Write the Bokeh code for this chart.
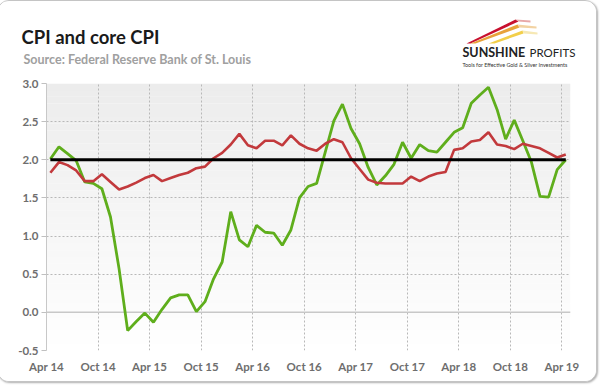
import numpy as np
from bokeh.plotting import figure
from bokeh.layouts import column
from bokeh.models import (FixedTicker, NumeralTickFormatter, Label, Span,
                          Range1d)
from bokeh.embed import file_html
from bokeh.resources import INLINE

# ---------------- data ----------------
tick_labels = ["Apr 14", "Oct 14", "Apr 15", "Oct 15", "Apr 16", "Oct 16",
               "Apr 17", "Oct 17", "Apr 18", "Oct 18", "Apr 19"]

cpi = [2.01, 2.17, 2.08, 1.99, 1.71, 1.69, 1.62, 1.25, 0.57, -0.24,
       -0.12, -0.01, -0.13, 0.04, 0.19, 0.23, 0.23, 0.01, 0.14, 0.44,
       0.66, 1.32, 0.95, 0.86, 1.14, 1.05, 1.04, 0.88, 1.08, 1.50,
       1.65, 1.69, 2.10, 2.51, 2.73, 2.41, 2.21, 1.90, 1.67, 1.79,
       1.94, 2.23, 2.02, 2.20, 2.12, 2.10, 2.23, 2.36, 2.42, 2.74,
       2.85, 2.95, 2.66, 2.27, 2.52, 2.25, 1.97, 1.52, 1.51, 1.87,
       2.00]

core_cpi = [1.83, 1.97, 1.93, 1.86, 1.72, 1.72, 1.81, 1.71, 1.61, 1.65,
            1.70, 1.76, 1.80, 1.72, 1.76, 1.80, 1.83, 1.89, 1.91, 2.02,
            2.09, 2.20, 2.34, 2.19, 2.15, 2.25, 2.25, 2.19, 2.32, 2.21,
            2.15, 2.12, 2.21, 2.27, 2.23, 2.02, 1.88, 1.74, 1.70, 1.69,
            1.69, 1.69, 1.78, 1.72, 1.78, 1.82, 1.84, 2.13, 2.15, 2.24,
            2.26, 2.36, 2.20, 2.18, 2.14, 2.21, 2.18, 2.15, 2.09, 2.03,
            2.07]

target = [2.0] * len(cpi)
y_ticks = [-0.5, 0.0, 0.5, 1.0, 1.5, 2.0, 2.5, 3.0]

title_text = "CPI and core CPI"
source_text = "Source: Federal Reserve Bank of St. Louis"

# ---------------- layout ----------------
FONT = "Lato"
W = 598            # inner width of the card
HH = 74            # header height
CH = 306           # chart height
X0, X1, Y0, Y1 = 0, 61, -0.5, 3.0
months = np.arange(len(cpi))
xs = months + 0.45
x_ticks = list(range(0, len(cpi), 6))

# ---- header (title, source, logo); coordinates are pixels ----
hd = figure(width=W, height=HH, output_backend="svg", toolbar_location=None,
            x_range=Range1d(0, W), y_range=Range1d(HH, 0),
            min_border=0, x_axis_type=None, y_axis_type=None)
hd.frame_align = False
hd.outline_line_color = None
hd.grid.visible = False
hd.background_fill_color = "white"
hd.border_fill_color = "white"

def add_label(fig, text, x, y, size, color, style="bold", align="left"):
    fig.add_layout(Label(x=x, y=y, text=text, text_font=FONT,
                         text_font_size=size, text_color=color,
                         text_font_style=style, text_align=align,
                         text_baseline="alphabetic"))

add_label(hd, title_text, 23, 35.5, "18.5px", "#1a1a1a")
add_label(hd, source_text, 25, 58, "12.5px", "#a0a0a0")
add_label(hd, "SUNSHINE", 464, 51, "12.5px", "#222222")
add_label(hd, "PROFITS", 531, 51, "11.5px", "#222222", style="normal")
add_label(hd, "Tools for Effective Gold & Silver Investments", 464, 63, "5.4px",
          "#333333", style="normal")

swoosh_xs = [[468, 517, 520, 472], [517, 532, 532, 520],
             [472, 519, 521, 477], [519, 538, 538, 521],
             [490, 524, 525, 496], [524, 539, 539, 525]]
swoosh_ys = [[42, 18, 20, 42], [18, 19, 21, 20],
             [42, 23, 26, 42], [23, 25, 27, 26],
             [42, 29, 32, 42], [29, 31, 33, 32]]
swoosh_c = ["#c8102e", "#e8a8a8", "#e8a23a", "#f2d2a2", "#f2cf4a", "#f6e8b4"]
hd.patches(swoosh_xs, swoosh_ys, fill_color=swoosh_c, line_color=None)

# ---- chart ----
p = figure(width=W, height=CH, output_backend="svg", toolbar_location=None,
           x_range=(X0, X1), y_range=(Y0, Y1),
           min_border_left=48, min_border_top=8,
           min_border_right=26, min_border_bottom=31)
p.frame_align = False
p.outline_line_color = None
p.background_fill_color = "white"
p.border_fill_color = "white"

n = 40
edges = np.linspace(Y0, Y1, n + 1)
cols = []
for k in range(n):
    t = (k + 0.5) / n
    g = int(round(255 - 19 * t))
    cols.append("#%02x%02x%02x" % (g, g, g))
p.quad(left=X0, right=X1, bottom=edges[:-1], top=edges[1:] + 0.001,
       fill_color=cols, line_color=None, level="underlay")

p.xgrid.grid_line_color = "#b8b8b8"
p.xgrid.grid_line_dash = "2 2"
p.ygrid.grid_line_color = "#b8b8b8"
p.ygrid.grid_line_dash = "2 2"
p.add_layout(Span(location=0, dimension="width", line_color="#c8c8c8",
                  line_width=1.5, level="underlay"))

p.xaxis.ticker = FixedTicker(ticks=x_ticks)
p.xaxis.major_label_overrides = {t: lab for t, lab in zip(x_ticks, tick_labels)}
p.yaxis.ticker = FixedTicker(ticks=y_ticks)
p.yaxis.formatter = NumeralTickFormatter(format="0.0")
for ax in (p.xaxis, p.yaxis):
    ax.major_label_text_font = FONT
    ax.major_label_text_font_style = "bold"
    ax.major_label_text_font_size = "11.5px"
    ax.major_label_text_color = "#6e6e6e"
    ax.minor_tick_line_color = None
p.xaxis.axis_line_color = None
p.xaxis.major_tick_line_color = None
p.xaxis.major_label_standoff = 3
p.yaxis.axis_line_color = "#c8c8c8"
p.yaxis.major_tick_line_color = "#c0c0c0"
p.yaxis.major_tick_out = 5
p.yaxis.major_tick_in = 0
p.yaxis.major_label_standoff = 3

p.line(xs, cpi, line_color="#5fae1c", line_width=2.8)
p.line(xs, core_cpi, line_color="#c2393c", line_width=2.6)
p.line(xs, target, line_color="black", line_width=3)

lay = column(hd, p, spacing=0)
lay.styles = {"margin-left": "-3.5px", "margin-top": "-0.5px",
              "border-radius": "12px", "border": "1px solid #c4c4c4",
              "box-shadow": "1px 1px 2px #b0b0b0", "overflow": "hidden",
              "background": "white"}

open("out.html", "w").write(file_html(lay, INLINE))
